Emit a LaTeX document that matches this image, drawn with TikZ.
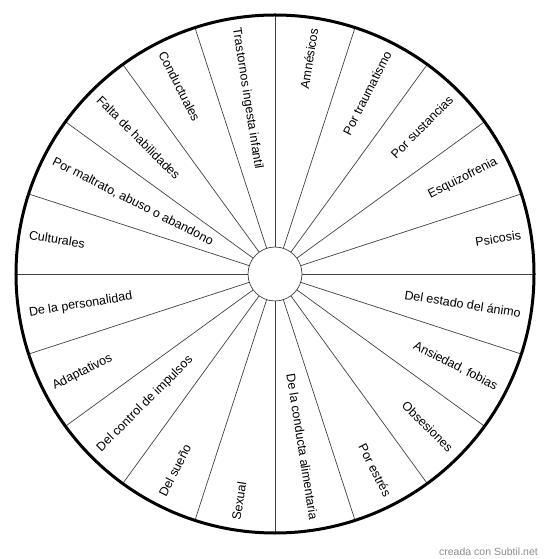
\documentclass[tikz,border=0pt]{standalone}
\usepackage{fontspec}
\setmainfont{Liberation Sans}
\usepackage{tikz}
\tikzset{spoke/.style={color=black!75, line width=0.7pt},
    lblout/.style={anchor=east, inner sep=0pt, font=\fontsize{12.5}{15}\selectfont},
    lblin/.style={anchor=west, inner sep=0pt, font=\fontsize{12.5}{15}\selectfont}}

\begin{document}
\begin{tikzpicture} [x=1pt,y=1pt]
        \useasboundingbox (-275,-285) rectangle (275,274);
        % spokes
        \draw[spoke] (0:27) -- (0:260); \draw[spoke] (18:27) -- (18:260); \draw[spoke] (36:27) -- (36:260); \draw[spoke] (54:27) -- (54:260); \draw[spoke] (72:27) -- (72:260);
        \draw[spoke] (90:27) -- (90:260); \draw[spoke] (108:27) -- (108:260); \draw[spoke] (126:27) -- (126:260); \draw[spoke] (144:27) -- (144:260); \draw[spoke] (162:27) -- (162:260);
        \draw[spoke] (180:27) -- (180:260); \draw[spoke] (198:27) -- (198:260); \draw[spoke] (216:27) -- (216:260); \draw[spoke] (234:27) -- (234:260); \draw[spoke] (252:27) -- (252:260);
        \draw[spoke] (270:27) -- (270:260); \draw[spoke] (288:27) -- (288:260); \draw[spoke] (306:27) -- (306:260); \draw[spoke] (324:27) -- (324:260); \draw[spoke] (342:27) -- (342:260);
        \draw[spoke, fill=white] (0,0) circle (27); \draw[line width=3pt] (0,0) circle (259);

        % right half, text reads outwards
        \node[lblout, rotate=81] (amnesicos) at (81:249) {Amnésicos};
        \node[lblout, rotate=63] (trauma) at (63:249) {Por traumatismo};
        \node[lblout, rotate=45] (sustancias) at (45:249) {Por sustancias};
        \node[lblout, rotate=27] (esquizo) at (27:249) {Esquizofrenia};
        \node[lblout, rotate=9] (psicosis) at (9:249) {Psicosis};
        \node[lblout, rotate=-9] (animo) at (-9:249) {Del estado del ánimo};
        \node[lblout, rotate=-27] (ansiedad) at (-27:249) {Ansiedad, fobias};
        \node[lblout, rotate=-45] (obsesiones) at (-45:249) {Obsesiones};
        \node[lblout, rotate=-63] (estres) at (-63:249) {Por estrés};
        \node[lblout, rotate=-81] (alimentaria) at (-81:249) {De la conducta alimentaria};

        % left half, text reads inwards
        \node[lblin, rotate=81] (sexual) at (-99:249) {Sexual};
        \node[lblin, rotate=63] (sueno) at (-117:249) {Del sueño};
        \node[lblin, rotate=45] (impulsos) at (-135:249) {Del control de impulsos};
        \node[lblin, rotate=27] (adaptativos) at (-153:249) {Adaptativos};
        \node[lblin, rotate=9] (personalidad) at (-171:249) {De la personalidad};
        \node[lblin, rotate=-9] (culturales) at (171:249) {Culturales};
        \node[lblin, rotate=-27] (maltrato) at (153:249) {Por maltrato, abuso o abandono};
        \node[lblin, rotate=-45] (habilidades) at (135:249) {Falta de habilidades};
        \node[lblin, rotate=-63] (conductuales) at (117:249) {Conductuales};
        \node[lblin, rotate=-81] (ingesta) at (99:249) {Trastornos ingesta infantil};

        \node[anchor=east, inner sep=0pt, text=black!45, font=\fontsize{10.5}{12}\selectfont] (firma) at (263,-278) {creada con Subtil.net};
    \end{tikzpicture}
\end{document}
